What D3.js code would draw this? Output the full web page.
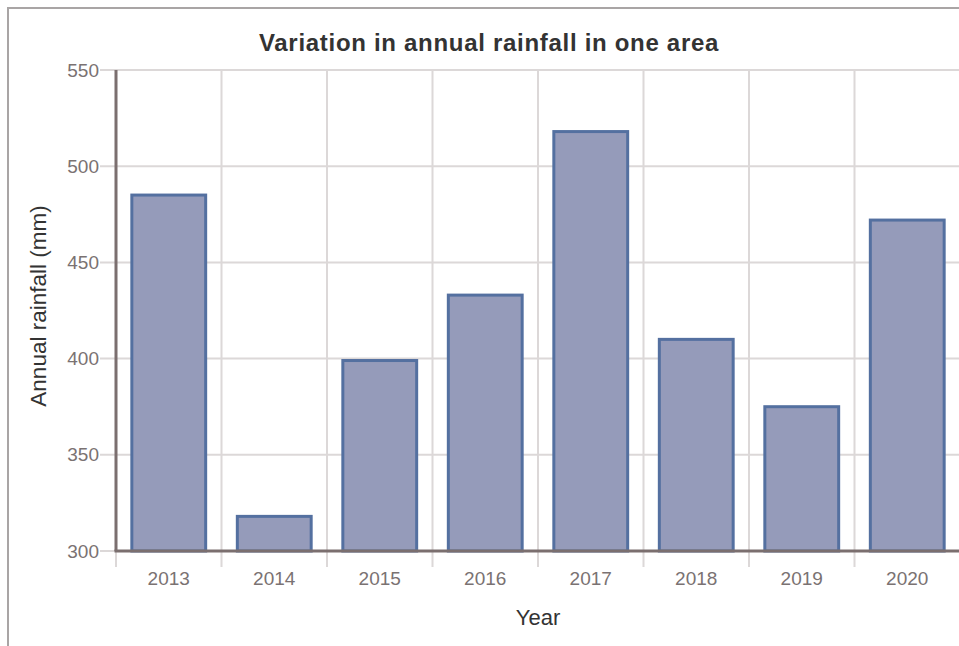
<!DOCTYPE html>
<html>
<head>
<meta charset="utf-8">
<script src="https://cdn.jsdelivr.net/npm/d3@7"></script>
<style>
  html, body { margin: 0; padding: 0; background: #fff; }
  svg { display: block; }
</style>
</head>
<body>
<svg id="chart" width="959" height="646"></svg>
<script>
// Annual rainfall per year, in millimetres
const years = ["2013", "2014", "2015", "2016", "2017", "2018", "2019", "2020"];
const rainfall = [485, 318, 399, 433, 518, 410, 375, 472];
const yTicks = [300, 350, 400, 450, 500, 550];

const titleText = "Variation in annual rainfall in one area";
const xTitle = "Year";
const yTitle = "Annual rainfall (mm)";

const svg = d3.select("#chart");
const W = 959, H = 646;
const plot = { left: 116, right: 960, top: 70, bottom: 551 };
const font = "Liberation Sans, Arial, Helvetica, sans-serif";

// Outer frame (top and left edges visible)
svg.append("path")
  .attr("d", `M8,${H} L8,8 L${W},8`)
  .attr("fill", "none")
  .attr("stroke", "#a9a5a5")
  .attr("stroke-width", 2);

const x = d3.scaleBand()
  .domain(years)
  .range([plot.left, plot.right]);

const xBar = d3.scaleBand()
  .domain(years)
  .range([plot.left, plot.right])
  .paddingInner(0.3)
  .paddingOuter(0.15);

const y = d3.scaleLinear()
  .domain([300, 550])
  .range([plot.bottom, plot.top]);

const gridColor = "#dcd8d8";
const axisColor = "#7b6f6f";
const labelColor = "#7a7272";

// Horizontal grid lines with short ticks left of the axis
svg.append("g")
  .selectAll("line")
  .data(yTicks)
  .join("line")
  .attr("x1", plot.left - 16)
  .attr("x2", plot.right)
  .attr("y1", d => y(d))
  .attr("y2", d => y(d))
  .attr("stroke", gridColor)
  .attr("stroke-width", 2);

// Vertical grid lines at band boundaries, extending below the axis as ticks
const bounds = years.map(d => x(d)).concat([x(years[years.length - 1]) + x.bandwidth()]);
svg.append("g")
  .selectAll("line")
  .data(bounds)
  .join("line")
  .attr("x1", d => d)
  .attr("x2", d => d)
  .attr("y1", plot.top)
  .attr("y2", plot.bottom + 16)
  .attr("stroke", gridColor)
  .attr("stroke-width", 2);

// Bars
svg.append("g")
  .selectAll("rect")
  .data(years.map((yr, i) => ({ yr, v: rainfall[i] })))
  .join("rect")
  .attr("x", d => xBar(d.yr))
  .attr("width", xBar.bandwidth())
  .attr("y", d => y(d.v))
  .attr("height", d => y(300) - y(d.v))
  .attr("fill", "#959bba")
  .attr("stroke", "#5470a0")
  .attr("stroke-width", 3);

// Axis lines
svg.append("line")
  .attr("x1", plot.left).attr("x2", plot.left)
  .attr("y1", plot.top).attr("y2", plot.bottom)
  .attr("stroke", axisColor).attr("stroke-width", 3);
svg.append("line")
  .attr("x1", plot.left - 1.5).attr("x2", plot.right)
  .attr("y1", plot.bottom).attr("y2", plot.bottom)
  .attr("stroke", axisColor).attr("stroke-width", 3);

// Y tick labels
svg.append("g")
  .selectAll("text")
  .data(yTicks)
  .join("text")
  .attr("x", plot.left - 17)
  .attr("y", d => y(d))
  .attr("dy", "0.35em")
  .attr("text-anchor", "end")
  .attr("font-family", font)
  .attr("font-size", 19)
  .attr("fill", labelColor)
  .text(d => d);

// X tick labels
svg.append("g")
  .selectAll("text")
  .data(years)
  .join("text")
  .attr("x", d => x(d) + x.bandwidth() / 2)
  .attr("y", plot.bottom + 27)
  .attr("dy", "0.35em")
  .attr("text-anchor", "middle")
  .attr("font-family", font)
  .attr("font-size", 19)
  .attr("fill", labelColor)
  .text(d => d);

// Title
svg.append("text")
  .attr("x", 489)
  .attr("y", 43)
  .attr("dy", "0.35em")
  .attr("text-anchor", "middle")
  .attr("font-family", font)
  .attr("font-weight", "bold")
  .attr("font-size", 24)
  .attr("letter-spacing", 0.7)
  .attr("fill", "#333")
  .text(titleText);

// X axis title
svg.append("text")
  .attr("x", 538)
  .attr("y", 617)
  .attr("dy", "0.35em")
  .attr("text-anchor", "middle")
  .attr("font-family", font)
  .attr("font-size", 22)
  .attr("fill", "#333")
  .text(xTitle);

// Y axis title
svg.append("text")
  .attr("transform", "translate(38,306) rotate(-90)")
  .attr("dy", "0.35em")
  .attr("text-anchor", "middle")
  .attr("font-family", font)
  .attr("font-size", 22.5)
  .attr("fill", "#333")
  .text(yTitle);
</script>
</body>
</html>
